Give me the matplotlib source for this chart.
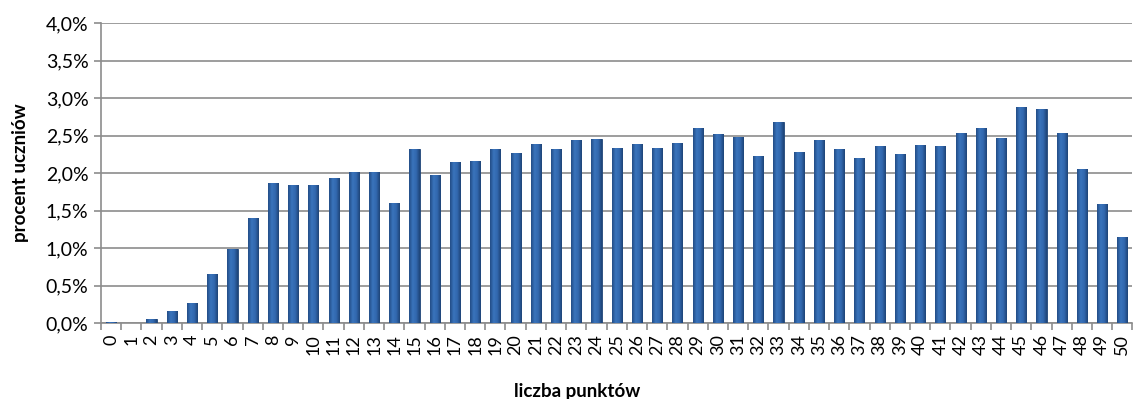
import numpy as np
import matplotlib.pyplot as plt
from matplotlib.ticker import FuncFormatter
from matplotlib.colors import LinearSegmentedColormap

# liczba punktów i procent uczniów
punkty = list(range(51))
procent = [0.02, 0.00, 0.06, 0.16, 0.27, 0.65, 0.99, 1.40, 1.87, 1.84,
           1.84, 1.93, 2.01, 2.01, 1.60, 2.32, 1.97, 2.15, 2.16, 2.32,
           2.27, 2.39, 2.32, 2.44, 2.45, 2.33, 2.39, 2.33, 2.40, 2.60,
           2.52, 2.48, 2.23, 2.68, 2.28, 2.44, 2.32, 2.20, 2.36, 2.25,
           2.37, 2.36, 2.53, 2.60, 2.47, 2.88, 2.86, 2.54, 2.06, 1.59,
           1.15]

plt.rcParams['font.family'] = ['Lato', 'DejaVu Sans']

fig = plt.figure(figsize=(11.36, 3.99), dpi=100)
ax = fig.add_axes([0.0889, 0.19, 0.908, 0.752])

bars = ax.bar(punkty, procent, width=0.5, color='#2F60A2', edgecolor='#1F4476',
              linewidth=0.6, zorder=3)

# poziomy gradient w każdym słupku
grad = LinearSegmentedColormap.from_list(
    'slupek', ['#224C86', '#3A74BC', '#3268AE', '#1E4477'])
g = np.linspace(0, 1, 64).reshape(1, -1)
for b in bars:
    x0, w, h = b.get_x(), b.get_width(), b.get_height()
    if h <= 0:
        continue
    im = ax.imshow(g, cmap=grad, aspect='auto', extent=(x0, x0 + w, 0, h),
                   zorder=3.5, interpolation='bilinear')
    im.set_clip_path(b)

ax.set_xlim(-0.5, 50.5)
ax.set_ylim(0, 4.0)
ax.set_yticks(np.arange(0, 4.01, 0.5))
ax.yaxis.set_major_formatter(FuncFormatter(lambda v, p: f'{v:.1f}%'.replace('.', ',')))
ax.grid(axis='y', color='#8C8C8C', linewidth=1.2, zorder=0)

# etykiety na środku kategorii, kreski na granicach
ax.set_xticks(punkty)
ax.set_xticklabels([str(p) for p in punkty], rotation=90)
ax.set_xticks(np.arange(-0.5, 51, 1), minor=True)
ax.tick_params(axis='x', which='major', length=0, pad=8, labelsize=13)
ax.tick_params(axis='x', which='minor', length=5, color='#8C8C8C', width=1.2)
ax.tick_params(axis='y', length=5, color='#8C8C8C', width=1.2, labelsize=14, pad=4)

for s in ['top', 'right']:
    ax.spines[s].set_visible(False)
for s in ['left', 'bottom']:
    ax.spines[s].set_color('#8C8C8C')
    ax.spines[s].set_linewidth(1.2)

ax.set_xlabel('liczba punktów', fontsize=13.5, fontweight='bold')
ax.xaxis.set_label_coords(0.462, -0.2)
ax.set_ylabel('procent uczniów', fontsize=13.5, fontweight='bold')
ax.yaxis.set_label_coords(-0.07, 0.5)

fig.savefig('out.png', dpi=100)
